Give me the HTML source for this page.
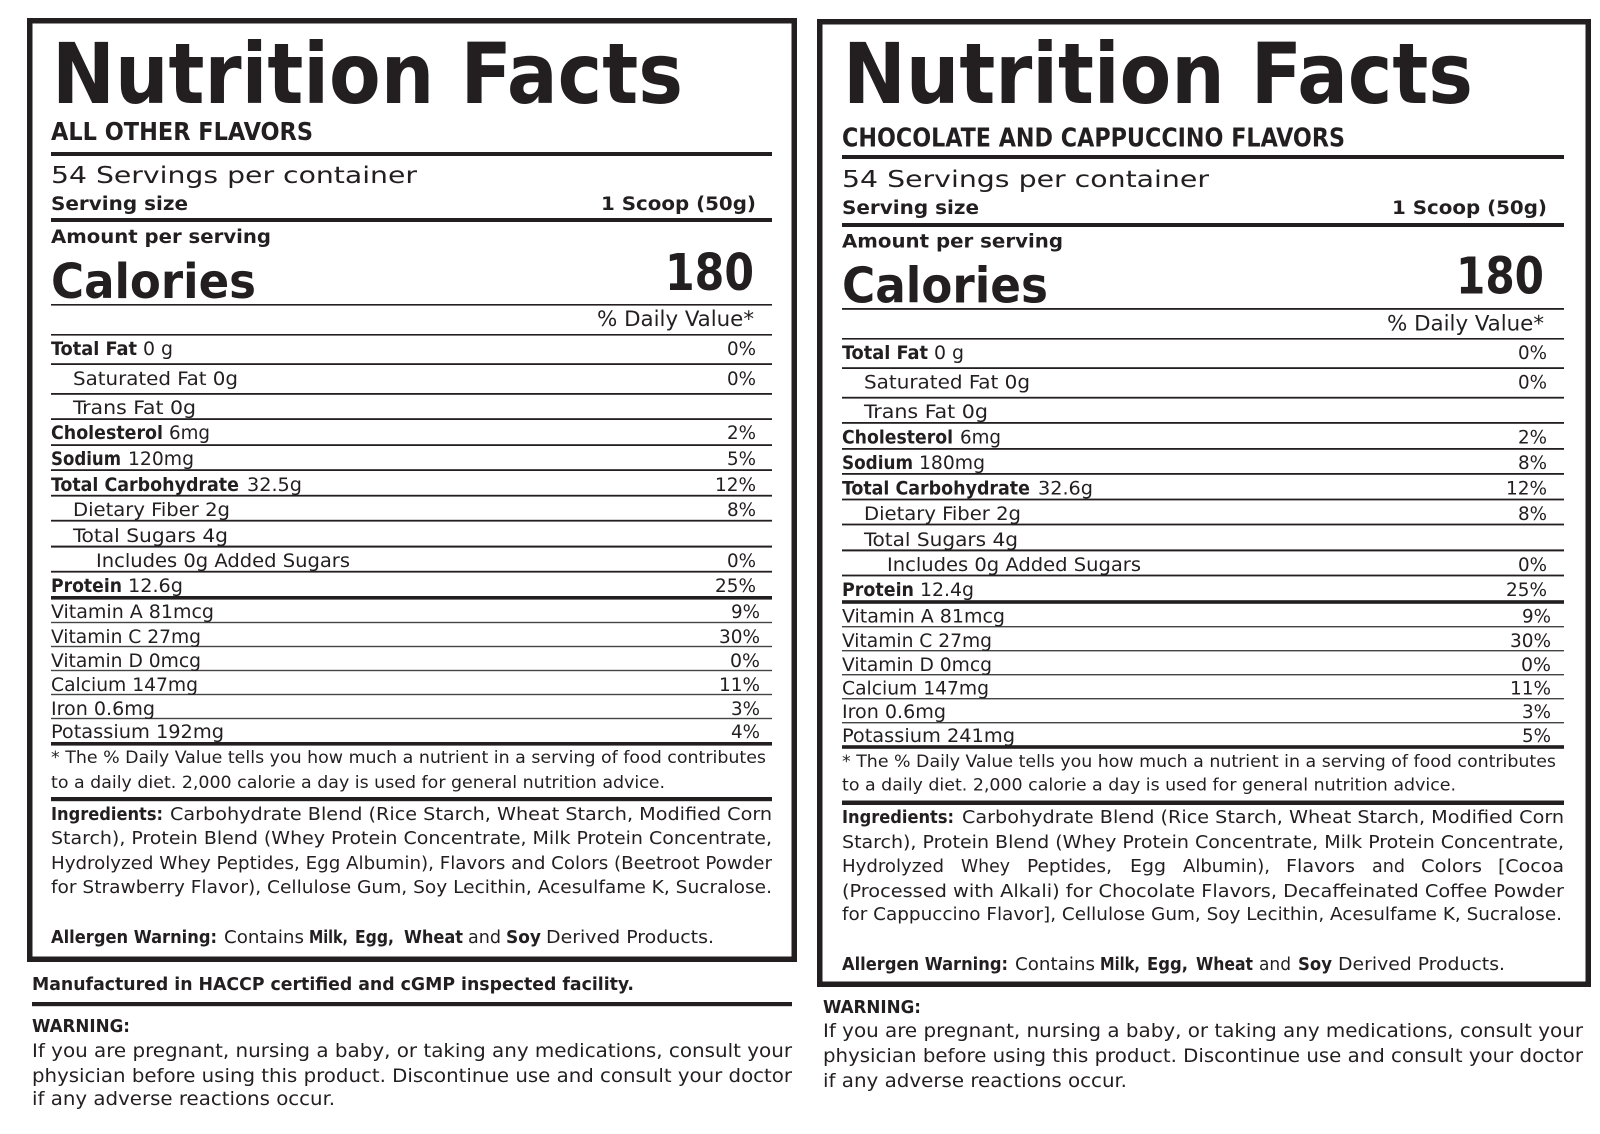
<!DOCTYPE html>
<html><head><meta charset="utf-8">
<style>
html,body{margin:0;padding:0;background:#fff;}
svg{display:block;}
text{font-family:"Liberation Sans Narrow","DejaVu Sans Condensed","Liberation Sans",sans-serif;fill:#231f20;}
.b{font-weight:bold;}
</style></head>
<body>
<svg width="1600" height="1134" viewBox="0 0 1600 1134" xmlns="http://www.w3.org/2000/svg">
<rect width="1600" height="1134" fill="#fff"/>

<!-- ============ LEFT PANEL ============ -->
<rect x="29.75" y="20.75" width="764.5" height="938.5" fill="none" stroke="#231f20" stroke-width="5.5"/>
<g fill="#231f20">
<rect x="51" y="152" width="721" height="4"/>
<rect x="51" y="218" width="721" height="4"/>
<rect x="51" y="304" width="721" height="1.6"/>
<rect x="51" y="334" width="721" height="1.6"/>
<rect x="51" y="363.2" width="721" height="1.8"/>
<rect x="51" y="393" width="721" height="1.8"/>
<rect x="51" y="418.2" width="721" height="1.8"/>
<rect x="51" y="444.2" width="721" height="1.8"/>
<rect x="51" y="469.2" width="721" height="1.8"/>
<rect x="51" y="494.8" width="721" height="1.8"/>
<rect x="51" y="519.8" width="721" height="1.8"/>
<rect x="51" y="545.6" width="721" height="2"/>
<rect x="51" y="570.8" width="721" height="1.8"/>
<rect x="51" y="596" width="721" height="3.6"/>
<rect x="51" y="621.8" width="721" height="1.4" fill="#444"/>
<rect x="51" y="645.8" width="721" height="1.4" fill="#444"/>
<rect x="51" y="669.8" width="721" height="1.4" fill="#444"/>
<rect x="51" y="693.8" width="721" height="1.4" fill="#444"/>
<rect x="51" y="717.8" width="721" height="1.4" fill="#444"/>
<rect x="51" y="742" width="721" height="3.6"/>
<rect x="51" y="797" width="721" height="4.2"/>
</g>

<text class="b" x="52" y="103" font-size="84" textLength="631" lengthAdjust="spacingAndGlyphs">Nutrition Facts</text>
<text class="b" x="51" y="140" font-size="24.5" textLength="262" lengthAdjust="spacingAndGlyphs">ALL OTHER FLAVORS</text>
<text x="51" y="183" font-size="23" textLength="366" lengthAdjust="spacingAndGlyphs">54 Servings per container</text>
<text class="b" x="51" y="210" font-size="18.5" textLength="137" lengthAdjust="spacingAndGlyphs">Serving size</text>
<text class="b" x="601" y="210" font-size="18.5" textLength="155" lengthAdjust="spacingAndGlyphs">1 Scoop (50g)</text>
<text class="b" x="51" y="243" font-size="18.5" textLength="220" lengthAdjust="spacingAndGlyphs">Amount per serving</text>
<text class="b" x="51" y="298" font-size="48" textLength="205" lengthAdjust="spacingAndGlyphs">Calories</text>
<text class="b" x="665" y="290" font-size="50.5" textLength="89" lengthAdjust="spacingAndGlyphs">180</text>
<text x="597" y="326" font-size="21" textLength="157" lengthAdjust="spacingAndGlyphs">% Daily Value*</text>

<g font-size="18.3">
<text class="b" x="51" y="355" textLength="86" lengthAdjust="spacingAndGlyphs">Total Fat</text>
<text x="143" y="355" textLength="30" lengthAdjust="spacingAndGlyphs">0 g</text>
<text x="727" y="355" textLength="29" lengthAdjust="spacingAndGlyphs">0%</text>

<text x="73" y="385" textLength="165" lengthAdjust="spacingAndGlyphs">Saturated Fat 0g</text>
<text x="727" y="385" textLength="29" lengthAdjust="spacingAndGlyphs">0%</text>

<text x="73" y="414" textLength="123" lengthAdjust="spacingAndGlyphs">Trans Fat 0g</text>

<text class="b" x="51" y="439" textLength="112" lengthAdjust="spacingAndGlyphs">Cholesterol</text>
<text x="169" y="439" textLength="41" lengthAdjust="spacingAndGlyphs">6mg</text>
<text x="727" y="439" textLength="29" lengthAdjust="spacingAndGlyphs">2%</text>

<text class="b" x="51" y="465" textLength="70" lengthAdjust="spacingAndGlyphs">Sodium</text>
<text x="128" y="465" textLength="66" lengthAdjust="spacingAndGlyphs">120mg</text>
<text x="727" y="465" textLength="29" lengthAdjust="spacingAndGlyphs">5%</text>

<text class="b" x="51" y="491" textLength="188" lengthAdjust="spacingAndGlyphs">Total Carbohydrate</text>
<text x="247" y="491" textLength="55" lengthAdjust="spacingAndGlyphs">32.5g</text>
<text x="715" y="491" textLength="41" lengthAdjust="spacingAndGlyphs">12%</text>

<text x="73" y="516" textLength="157" lengthAdjust="spacingAndGlyphs">Dietary Fiber 2g</text>
<text x="727" y="516" textLength="29" lengthAdjust="spacingAndGlyphs">8%</text>

<text x="73" y="542" textLength="155" lengthAdjust="spacingAndGlyphs">Total Sugars 4g</text>

<text x="96" y="567" textLength="254" lengthAdjust="spacingAndGlyphs">Includes 0g Added Sugars</text>
<text x="727" y="567" textLength="29" lengthAdjust="spacingAndGlyphs">0%</text>

<text class="b" x="51" y="592" textLength="71" lengthAdjust="spacingAndGlyphs">Protein</text>
<text x="128" y="592" textLength="55" lengthAdjust="spacingAndGlyphs">12.6g</text>
<text x="715" y="592" textLength="41" lengthAdjust="spacingAndGlyphs">25%</text>

<text x="51" y="618" textLength="163" lengthAdjust="spacingAndGlyphs">Vitamin A 81mcg</text>
<text x="731" y="618" textLength="29" lengthAdjust="spacingAndGlyphs">9%</text>

<text x="51" y="643" textLength="150" lengthAdjust="spacingAndGlyphs">Vitamin C 27mg</text>
<text x="719" y="643" textLength="41" lengthAdjust="spacingAndGlyphs">30%</text>

<text x="51" y="667" textLength="150" lengthAdjust="spacingAndGlyphs">Vitamin D 0mcg</text>
<text x="730" y="667" textLength="30" lengthAdjust="spacingAndGlyphs">0%</text>

<text x="51" y="691" textLength="147" lengthAdjust="spacingAndGlyphs">Calcium 147mg</text>
<text x="719" y="691" textLength="41" lengthAdjust="spacingAndGlyphs">11%</text>

<text x="51" y="715" textLength="104" lengthAdjust="spacingAndGlyphs">Iron 0.6mg</text>
<text x="731" y="715" textLength="29" lengthAdjust="spacingAndGlyphs">3%</text>

<text x="51" y="738" textLength="173" lengthAdjust="spacingAndGlyphs">Potassium 192mg</text>
<text x="731" y="738" textLength="29" lengthAdjust="spacingAndGlyphs">4%</text>
</g>

<g font-size="17">
<text x="51" y="763" textLength="715" lengthAdjust="spacingAndGlyphs">* The % Daily Value tells you how much a nutrient in a serving of food contributes</text>
<text x="51" y="788" textLength="614" lengthAdjust="spacingAndGlyphs">to a daily diet. 2,000 calorie a day is used for general nutrition advice.</text>
</g>

<g font-size="17.5">
<text class="b" x="51" y="820" textLength="112" lengthAdjust="spacingAndGlyphs">Ingredients:</text>
<text x="170" y="820" textLength="602" lengthAdjust="spacingAndGlyphs">Carbohydrate Blend (Rice Starch, Wheat Starch, Modified Corn</text>
<text x="51" y="844" textLength="721" lengthAdjust="spacingAndGlyphs">Starch), Protein Blend (Whey Protein Concentrate, Milk Protein Concentrate,</text>
<text x="51" y="869" textLength="721" lengthAdjust="spacingAndGlyphs">Hydrolyzed Whey Peptides, Egg Albumin), Flavors and Colors (Beetroot Powder</text>
<text x="51" y="893" textLength="721" lengthAdjust="spacingAndGlyphs">for Strawberry Flavor), Cellulose Gum, Soy Lecithin, Acesulfame K, Sucralose.</text>

<text class="b" x="51" y="943" textLength="166" lengthAdjust="spacingAndGlyphs">Allergen Warning:</text>
<text x="224" y="943" textLength="80" lengthAdjust="spacingAndGlyphs">Contains</text>
<text class="b" x="309" y="943" textLength="39" lengthAdjust="spacingAndGlyphs">Milk,</text>
<text class="b" x="355" y="943" textLength="39" lengthAdjust="spacingAndGlyphs">Egg,</text>
<text class="b" x="404" y="943" textLength="59" lengthAdjust="spacingAndGlyphs">Wheat</text>
<text x="468" y="943" textLength="33" lengthAdjust="spacingAndGlyphs">and</text>
<text class="b" x="506" y="943" textLength="35" lengthAdjust="spacingAndGlyphs">Soy</text>
<text x="546" y="943" textLength="168" lengthAdjust="spacingAndGlyphs">Derived Products.</text>
</g>

<text class="b" x="32" y="990" font-size="17.5" textLength="602" lengthAdjust="spacingAndGlyphs">Manufactured in HACCP certified and cGMP inspected facility.</text>
<rect x="32" y="1002" width="760" height="4.2" fill="#231f20"/>
<text class="b" x="32" y="1032" font-size="18" textLength="98" lengthAdjust="spacingAndGlyphs">WARNING:</text>
<g font-size="19">
<text x="32" y="1057" textLength="760" lengthAdjust="spacingAndGlyphs">If you are pregnant, nursing a baby, or taking any medications, consult your</text>
<text x="32" y="1082" textLength="760" lengthAdjust="spacingAndGlyphs">physician before using this product. Discontinue use and consult your doctor</text>
<text x="32" y="1105" textLength="303" lengthAdjust="spacingAndGlyphs">if any adverse reactions occur.</text>
</g>

<!-- ============ RIGHT PANEL ============ -->
<rect x="819.75" y="21.75" width="768.5" height="962.5" fill="none" stroke="#231f20" stroke-width="5.5"/>
<g fill="#231f20">
<rect x="842" y="155" width="722" height="4"/>
<rect x="842" y="223" width="722" height="4"/>
<rect x="842" y="308" width="722" height="1.8"/>
<rect x="842" y="338" width="722" height="1.6"/>
<rect x="842" y="367.2" width="722" height="1.8"/>
<rect x="842" y="396.8" width="722" height="1.8"/>
<rect x="842" y="422" width="722" height="1.8"/>
<rect x="842" y="448" width="722" height="1.8"/>
<rect x="842" y="473" width="722" height="1.8"/>
<rect x="842" y="498.6" width="722" height="1.8"/>
<rect x="842" y="523.6" width="722" height="1.8"/>
<rect x="842" y="549.4" width="722" height="2"/>
<rect x="842" y="574.6" width="722" height="1.8"/>
<rect x="842" y="600.2" width="722" height="3.6"/>
<rect x="842" y="626" width="722" height="1.4" fill="#444"/>
<rect x="842" y="650" width="722" height="1.4" fill="#444"/>
<rect x="842" y="674" width="722" height="1.4" fill="#444"/>
<rect x="842" y="698" width="722" height="1.4" fill="#444"/>
<rect x="842" y="722" width="722" height="1.4" fill="#444"/>
<rect x="842" y="745.2" width="722" height="3.6"/>
<rect x="842" y="800.5" width="722" height="4.5"/>
</g>

<text class="b" x="843" y="103" font-size="84" textLength="630" lengthAdjust="spacingAndGlyphs">Nutrition Facts</text>
<text class="b" x="842" y="146.5" font-size="25.5" textLength="503" lengthAdjust="spacingAndGlyphs">CHOCOLATE AND CAPPUCCINO FLAVORS</text>
<text x="842" y="187" font-size="23.5" textLength="367" lengthAdjust="spacingAndGlyphs">54 Servings per container</text>
<text class="b" x="842" y="214" font-size="18.5" textLength="137" lengthAdjust="spacingAndGlyphs">Serving size</text>
<text class="b" x="1392" y="214" font-size="18.5" textLength="155" lengthAdjust="spacingAndGlyphs">1 Scoop (50g)</text>
<text class="b" x="842" y="247.5" font-size="18.5" textLength="221" lengthAdjust="spacingAndGlyphs">Amount per serving</text>
<text class="b" x="842" y="302.5" font-size="49" textLength="206" lengthAdjust="spacingAndGlyphs">Calories</text>
<text class="b" x="1456" y="293.5" font-size="51" textLength="88" lengthAdjust="spacingAndGlyphs">180</text>
<text x="1387" y="330.5" font-size="21" textLength="157" lengthAdjust="spacingAndGlyphs">% Daily Value*</text>

<g font-size="18.3">
<text class="b" x="842" y="359" textLength="86" lengthAdjust="spacingAndGlyphs">Total Fat</text>
<text x="934" y="359" textLength="30" lengthAdjust="spacingAndGlyphs">0 g</text>
<text x="1518" y="359" textLength="29" lengthAdjust="spacingAndGlyphs">0%</text>

<text x="864" y="388.5" textLength="166" lengthAdjust="spacingAndGlyphs">Saturated Fat 0g</text>
<text x="1518" y="388.5" textLength="29" lengthAdjust="spacingAndGlyphs">0%</text>

<text x="864" y="418" textLength="124" lengthAdjust="spacingAndGlyphs">Trans Fat 0g</text>

<text class="b" x="842" y="443.5" textLength="111" lengthAdjust="spacingAndGlyphs">Cholesterol</text>
<text x="960" y="443.5" textLength="41" lengthAdjust="spacingAndGlyphs">6mg</text>
<text x="1518" y="443.5" textLength="29" lengthAdjust="spacingAndGlyphs">2%</text>

<text class="b" x="842" y="469" textLength="71" lengthAdjust="spacingAndGlyphs">Sodium</text>
<text x="919" y="469" textLength="66" lengthAdjust="spacingAndGlyphs">180mg</text>
<text x="1518" y="469" textLength="29" lengthAdjust="spacingAndGlyphs">8%</text>

<text class="b" x="842" y="494.5" textLength="188" lengthAdjust="spacingAndGlyphs">Total Carbohydrate</text>
<text x="1038" y="494.5" textLength="55" lengthAdjust="spacingAndGlyphs">32.6g</text>
<text x="1506" y="494.5" textLength="41" lengthAdjust="spacingAndGlyphs">12%</text>

<text x="864" y="520" textLength="157" lengthAdjust="spacingAndGlyphs">Dietary Fiber 2g</text>
<text x="1518" y="520" textLength="29" lengthAdjust="spacingAndGlyphs">8%</text>

<text x="864" y="546" textLength="154" lengthAdjust="spacingAndGlyphs">Total Sugars 4g</text>

<text x="887" y="571" textLength="254" lengthAdjust="spacingAndGlyphs">Includes 0g Added Sugars</text>
<text x="1518" y="571" textLength="29" lengthAdjust="spacingAndGlyphs">0%</text>

<text class="b" x="842" y="596" textLength="72" lengthAdjust="spacingAndGlyphs">Protein</text>
<text x="920" y="596" textLength="54" lengthAdjust="spacingAndGlyphs">12.4g</text>
<text x="1506" y="596" textLength="41" lengthAdjust="spacingAndGlyphs">25%</text>

<text x="842" y="622.5" textLength="163" lengthAdjust="spacingAndGlyphs">Vitamin A 81mcg</text>
<text x="1522" y="622.5" textLength="29" lengthAdjust="spacingAndGlyphs">9%</text>

<text x="842" y="647" textLength="150" lengthAdjust="spacingAndGlyphs">Vitamin C 27mg</text>
<text x="1510" y="647" textLength="41" lengthAdjust="spacingAndGlyphs">30%</text>

<text x="842" y="671" textLength="150" lengthAdjust="spacingAndGlyphs">Vitamin D 0mcg</text>
<text x="1521" y="671" textLength="30" lengthAdjust="spacingAndGlyphs">0%</text>

<text x="842" y="694.5" textLength="147" lengthAdjust="spacingAndGlyphs">Calcium 147mg</text>
<text x="1510" y="694.5" textLength="41" lengthAdjust="spacingAndGlyphs">11%</text>

<text x="842" y="718" textLength="104" lengthAdjust="spacingAndGlyphs">Iron 0.6mg</text>
<text x="1522" y="718" textLength="29" lengthAdjust="spacingAndGlyphs">3%</text>

<text x="842" y="742" textLength="173" lengthAdjust="spacingAndGlyphs">Potassium 241mg</text>
<text x="1522" y="742" textLength="29" lengthAdjust="spacingAndGlyphs">5%</text>
</g>

<g font-size="17">
<text x="842" y="767" textLength="714" lengthAdjust="spacingAndGlyphs">* The % Daily Value tells you how much a nutrient in a serving of food contributes</text>
<text x="842" y="790.5" textLength="614" lengthAdjust="spacingAndGlyphs">to a daily diet. 2,000 calorie a day is used for general nutrition advice.</text>
</g>

<g font-size="17.5">
<text class="b" x="842" y="823" textLength="112" lengthAdjust="spacingAndGlyphs">Ingredients:</text>
<text x="962" y="823" textLength="602" lengthAdjust="spacingAndGlyphs">Carbohydrate Blend (Rice Starch, Wheat Starch, Modified Corn</text>
<text x="842" y="848" textLength="722" lengthAdjust="spacingAndGlyphs">Starch), Protein Blend (Whey Protein Concentrate, Milk Protein Concentrate,</text>
<text x="842" y="872" textLength="102" lengthAdjust="spacingAndGlyphs">Hydrolyzed</text>
<text x="961" y="872" textLength="49" lengthAdjust="spacingAndGlyphs">Whey</text>
<text x="1027" y="872" textLength="85" lengthAdjust="spacingAndGlyphs">Peptides,</text>
<text x="1130" y="872" textLength="36" lengthAdjust="spacingAndGlyphs">Egg</text>
<text x="1183" y="872" textLength="87" lengthAdjust="spacingAndGlyphs">Albumin),</text>
<text x="1286" y="872" textLength="69" lengthAdjust="spacingAndGlyphs">Flavors</text>
<text x="1372" y="872" textLength="33" lengthAdjust="spacingAndGlyphs">and</text>
<text x="1421" y="872" textLength="61" lengthAdjust="spacingAndGlyphs">Colors</text>
<text x="1498" y="872" textLength="66" lengthAdjust="spacingAndGlyphs">[Cocoa</text>
<text x="842" y="897" textLength="722" lengthAdjust="spacingAndGlyphs">(Processed with Alkali) for Chocolate Flavors, Decaffeinated Coffee Powder</text>
<text x="842" y="920" textLength="720" lengthAdjust="spacingAndGlyphs">for Cappuccino Flavor], Cellulose Gum, Soy Lecithin, Acesulfame K, Sucralose.</text>

<text class="b" x="842" y="970" textLength="166" lengthAdjust="spacingAndGlyphs">Allergen Warning:</text>
<text x="1015" y="970" textLength="80" lengthAdjust="spacingAndGlyphs">Contains</text>
<text class="b" x="1100" y="970" textLength="40" lengthAdjust="spacingAndGlyphs">Milk,</text>
<text class="b" x="1147" y="970" textLength="41" lengthAdjust="spacingAndGlyphs">Egg,</text>
<text class="b" x="1196" y="970" textLength="57" lengthAdjust="spacingAndGlyphs">Wheat</text>
<text x="1259" y="970" textLength="32" lengthAdjust="spacingAndGlyphs">and</text>
<text class="b" x="1298" y="970" textLength="34" lengthAdjust="spacingAndGlyphs">Soy</text>
<text x="1338" y="970" textLength="167" lengthAdjust="spacingAndGlyphs">Derived Products.</text>
</g>

<text class="b" x="823" y="1013" font-size="18" textLength="98" lengthAdjust="spacingAndGlyphs">WARNING:</text>
<g font-size="19">
<text x="823" y="1037" textLength="760" lengthAdjust="spacingAndGlyphs">If you are pregnant, nursing a baby, or taking any medications, consult your</text>
<text x="823" y="1062" textLength="760" lengthAdjust="spacingAndGlyphs">physician before using this product. Discontinue use and consult your doctor</text>
<text x="823" y="1087" textLength="304" lengthAdjust="spacingAndGlyphs">if any adverse reactions occur.</text>
</g>
</svg>
</body></html>
